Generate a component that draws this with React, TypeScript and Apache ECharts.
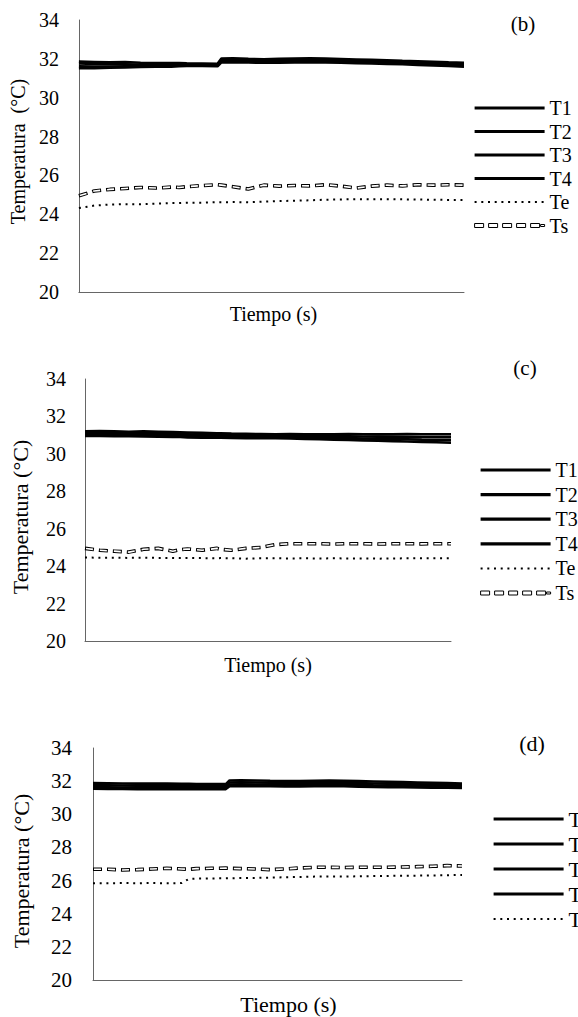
import React, { useEffect, useRef } from "react";
import * as echarts from "echarts";

// Shared time axis (arbitrary units, no labels shown)
const tiempo = [0, 4, 8, 12, 16, 20, 24, 26, 28, 32, 36, 37, 40, 44, 48, 52, 56, 60, 64, 68, 72, 76, 80, 84, 88, 92, 96, 100];
const yTicks = [20, 22, 24, 26, 28, 30, 32, 34];
const seriesNames = ["T1", "T2", "T3", "T4", "Te", "Ts"];

// Panel (b)
const T1b = [31.86, 31.84, 31.82, 31.83, 31.8, 31.79, 31.78, 31.78, 31.77, 31.76, 31.75, 32.02, 32.03, 32.0, 31.98, 32.0, 32.02, 32.03, 32.01, 31.99, 31.97, 31.95, 31.93, 31.9, 31.88, 31.85, 31.82, 31.8];
const T2b = [31.76, 31.74, 31.73, 31.72, 31.7, 31.7, 31.69, 31.7, 31.71, 31.72, 31.72, 31.95, 31.96, 31.94, 31.92, 31.93, 31.95, 31.96, 31.94, 31.92, 31.9, 31.88, 31.86, 31.84, 31.8, 31.78, 31.75, 31.73];
const T3b = [31.62, 31.6, 31.61, 31.62, 31.63, 31.64, 31.65, 31.66, 31.67, 31.67, 31.66, 31.88, 31.88, 31.87, 31.86, 31.86, 31.88, 31.89, 31.88, 31.86, 31.84, 31.82, 31.8, 31.78, 31.75, 31.72, 31.7, 31.67];
const T4b = [31.52, 31.52, 31.54, 31.56, 31.58, 31.59, 31.6, 31.62, 31.63, 31.63, 31.62, 31.82, 31.82, 31.81, 31.8, 31.8, 31.82, 31.83, 31.82, 31.8, 31.78, 31.76, 31.74, 31.72, 31.69, 31.66, 31.63, 31.6];
const Teb = [24.32, 24.45, 24.5, 24.52, 24.52, 24.55, 24.58, 24.58, 24.6, 24.6, 24.62, 24.62, 24.63, 24.62, 24.65, 24.68, 24.7, 24.72, 24.75, 24.76, 24.78, 24.77, 24.78, 24.77, 24.76, 24.75, 24.74, 24.74];
const Tsb = [24.95, 25.2, 25.28, 25.33, 25.38, 25.35, 25.4, 25.38, 25.42, 25.48, 25.52, 25.5, 25.42, 25.3, 25.5, 25.45, 25.48, 25.46, 25.52, 25.45, 25.35, 25.45, 25.5, 25.46, 25.52, 25.5, 25.52, 25.5];

// Panel (c)
const T1c = [31.2, 31.22, 31.2, 31.18, 31.2, 31.18, 31.16, 31.15, 31.14, 31.12, 31.1, 31.1, 31.08, 31.07, 31.06, 31.05, 31.06, 31.05, 31.04, 31.05, 31.06, 31.05, 31.04, 31.05, 31.06, 31.05, 31.05, 31.05];
const T2c = [31.12, 31.12, 31.1, 31.1, 31.08, 31.08, 31.06, 31.05, 31.04, 31.02, 31.0, 31.0, 30.99, 30.98, 30.98, 30.97, 30.97, 30.96, 30.95, 30.95, 30.94, 30.93, 30.92, 30.92, 30.91, 30.9, 30.9, 30.9];
const T3c = [31.05, 31.04, 31.04, 31.02, 31.0, 31.0, 30.98, 30.97, 30.96, 30.95, 30.94, 30.93, 30.92, 30.92, 30.9, 30.9, 30.89, 30.88, 30.86, 30.85, 30.84, 30.82, 30.8, 30.8, 30.78, 30.76, 30.75, 30.75];
const T4c = [30.96, 30.96, 30.95, 30.94, 30.93, 30.92, 30.9, 30.9, 30.88, 30.87, 30.86, 30.86, 30.85, 30.84, 30.84, 30.83, 30.82, 30.8, 30.78, 30.76, 30.74, 30.72, 30.7, 30.68, 30.66, 30.64, 30.62, 30.6];
const Tec = [24.46, 24.45, 24.45, 24.44, 24.45, 24.44, 24.44, 24.43, 24.44, 24.43, 24.42, 24.43, 24.42, 24.4, 24.42, 24.42, 24.41, 24.42, 24.41, 24.42, 24.41, 24.41, 24.4, 24.41, 24.42, 24.42, 24.42, 24.42];
const Tsc = [24.95, 24.85, 24.8, 24.75, 24.9, 24.95, 24.8, 24.88, 24.92, 24.85, 24.95, 24.9, 24.85, 24.95, 25.0, 25.15, 25.2, 25.2, 25.2, 25.18, 25.2, 25.2, 25.18, 25.2, 25.2, 25.19, 25.2, 25.2];

// Panel (d)
const T1d = [31.88, 31.87, 31.86, 31.85, 31.86, 31.85, 31.84, 31.84, 31.83, 31.82, 31.82, 32.04, 32.05, 32.04, 32.02, 32.01, 32.0, 32.02, 32.03, 32.02, 32.0, 31.98, 31.96, 31.94, 31.92, 31.9, 31.88, 31.86];
const T2d = [31.76, 31.75, 31.74, 31.73, 31.74, 31.73, 31.72, 31.72, 31.72, 31.71, 31.7, 31.92, 31.93, 31.92, 31.9, 31.9, 31.89, 31.9, 31.91, 31.9, 31.88, 31.86, 31.85, 31.83, 31.81, 31.79, 31.77, 31.75];
const T3d = [31.64, 31.63, 31.62, 31.62, 31.63, 31.62, 31.61, 31.62, 31.61, 31.6, 31.6, 31.8, 31.81, 31.8, 31.79, 31.78, 31.78, 31.79, 31.8, 31.79, 31.77, 31.75, 31.74, 31.72, 31.7, 31.69, 31.68, 31.67];
const T4d = [31.54, 31.53, 31.53, 31.52, 31.53, 31.52, 31.52, 31.53, 31.52, 31.52, 31.52, 31.7, 31.71, 31.7, 31.69, 31.68, 31.68, 31.69, 31.7, 31.69, 31.67, 31.65, 31.64, 31.63, 31.62, 31.61, 31.6, 31.59];
const Ted = [25.84, 25.84, 25.85, 25.84, 25.85, 25.84, 25.85, 26.1, 26.12, 26.13, 26.14, 26.14, 26.15, 26.16, 26.18, 26.2, 26.22, 26.24, 26.25, 26.24, 26.26, 26.27, 26.28, 26.29, 26.3, 26.31, 26.32, 26.34];
const Tsd = [26.68, 26.68, 26.64, 26.66, 26.7, 26.74, 26.7, 26.68, 26.72, 26.74, 26.75, 26.74, 26.72, 26.7, 26.66, 26.7, 26.76, 26.8, 26.8, 26.79, 26.8, 26.8, 26.8, 26.82, 26.84, 26.86, 26.9, 26.88];

const FONT = "'Liberation Serif', 'Times New Roman', Times, serif";

// hollow-dash icon for the Ts legend entry
const TS_ICON = "path://M0 0h9v4h-9zM14 0h9v4h-9zM28 0h9v4h-9zM42 0h9v4h-9zM56 0h9v4h-9zM66 1h4v2h-4z";

type Panel = {
  tag: string;
  data: number[][];
  grid: { left: number; top: number; width: number; height: number };
  tickFont: number;
  tickMargin: number;
  yName: string;
  yNameFont: number;
  yNameGap: number;
  yNamePad: number[];
  xNameFont: number;
  xNameGap: number;
  xNamePadLeft: number;
  legendNames: string[];
  legend: { left: number; top: number; font: number; lineHeight: number; gap: number };
  tagPos: { x: number; y: number; font: number };
};

const panels: Panel[] = [
  {
    tag: "(b)",
    data: [T1b, T2b, T3b, T4b, Teb, Tsb],
    grid: { left: 77, top: 20, width: 387, height: 272 },
    tickFont: 20,
    tickMargin: 20,
    yName: "Temperatura  (°C)",
    yNameFont: 20,
    yNameGap: 49,
    yNamePad: [0, 0, 0, 9],
    xNameFont: 20,
    xNameGap: 12,
    xNamePadLeft: 4,
    legendNames: ["T1", "T2", "T3", "T4", "Te", "Ts"],
    legend: { left: 473, top: 98, font: 20, lineHeight: 20, gap: 3.5 },
    tagPos: { x: 523, y: 24, font: 21 },
  },
  {
    tag: "(c)",
    data: [T1c, T2c, T3c, T4c, Tec, Tsc],
    grid: { left: 85, top: 379, width: 366, height: 262 },
    tickFont: 20,
    tickMargin: 19,
    yName: "Temperatura (°C)",
    yNameFont: 22,
    yNameGap: 54,
    yNamePad: [0, 14, 0, 0],
    xNameFont: 20,
    xNameGap: 14,
    xNamePadLeft: 0,
    legendNames: ["T1", "T2", "T3", "T4", "Te", "Ts"],
    legend: { left: 479, top: 460, font: 20, lineHeight: 20, gap: 4.6 },
    tagPos: { x: 525, y: 368, font: 21 },
  },
  {
    tag: "(d)",
    data: [T1d, T2d, T3d, T4d, Ted, Tsd],
    grid: { left: 93, top: 748, width: 369, height: 232 },
    tickFont: 21,
    tickMargin: 21,
    yName: "Temperatura (°C)",
    yNameFont: 22,
    yNameGap: 61,
    yNamePad: [0, 14, 0, 0],
    xNameFont: 22,
    xNameGap: 13,
    xNamePadLeft: 22,
    legendNames: ["T1", "T2", "T3", "T4", "Te"],
    legend: { left: 492, top: 808, font: 22, lineHeight: 22, gap: 3 },
    tagPos: { x: 532, y: 743, font: 22 },
  },
];

const AXIS_COLOR = "#666666";

function buildOption() {
  const grid: any[] = [];
  const xAxis: any[] = [];
  const yAxis: any[] = [];
  const series: any[] = [];
  const legend: any[] = [];
  const graphic: any[] = [];

  panels.forEach((p, i) => {
    grid.push({ ...p.grid, containLabel: false });
    xAxis.push({
      gridIndex: i,
      type: "value",
      min: tiempo[0],
      max: tiempo[tiempo.length - 1],
      axisLine: { show: true, lineStyle: { color: AXIS_COLOR, width: 1 } },
      axisTick: { show: false },
      axisLabel: { show: false },
      splitLine: { show: false },
      name: "Tiempo (s)",
      nameLocation: "middle",
      nameGap: p.xNameGap,
      nameTextStyle: {
        fontFamily: FONT,
        fontSize: p.xNameFont,
        color: "#000",
        padding: [0, 0, 0, p.xNamePadLeft],
      },
    });
    yAxis.push({
      gridIndex: i,
      type: "value",
      min: yTicks[0],
      max: yTicks[yTicks.length - 1],
      interval: yTicks[1] - yTicks[0],
      axisLine: { show: true, lineStyle: { color: AXIS_COLOR, width: 1 } },
      axisTick: { show: false },
      splitLine: { show: false },
      axisLabel: {
        fontFamily: FONT,
        fontSize: p.tickFont,
        color: "#000",
        margin: p.tickMargin,
      },
      name: p.yName,
      nameLocation: "middle",
      nameRotate: 90,
      nameGap: p.yNameGap,
      nameTextStyle: { fontFamily: FONT, fontSize: p.yNameFont, color: "#000", padding: p.yNamePad },
    });

    const toPts = (arr: number[]) => tiempo.map((t, k) => [t, arr[k]]);
    const base = {
      type: "line",
      xAxisIndex: i,
      yAxisIndex: i,
      symbol: "none",
      showSymbol: false,
      silent: true,
      itemStyle: { color: "#000" },
    };

    for (let s = 0; s < 4; s++) {
      series.push({ ...base, name: seriesNames[s], data: toPts(p.data[s]), z: 5, lineStyle: { color: "#000", width: 2.6 } });
    }
    series.push({ ...base, name: "Te", data: toPts(p.data[4]), lineStyle: { color: "#000", width: 2, type: [2, 4.7], cap: "butt" } });
    series.push({ ...base, name: "Ts", data: toPts(p.data[5]), lineStyle: { color: "#000", width: 3.6, type: [9, 5], cap: "butt" } });
    // white core of the hollow dashes
    series.push({ ...base, name: "Ts-hueco", itemStyle: { color: "#fff" }, data: toPts(p.data[5]), lineStyle: { color: "#fff", width: 1.6, type: [7, 7], dashOffset: -1, cap: "butt" } });

    const lg = p.legend;
    legend.push({
      orient: "vertical",
      left: lg.left,
      top: lg.top,
      padding: 0,
      itemWidth: 70,
      itemHeight: 4,
      itemGap: lg.gap,
      selectedMode: false,
      itemStyle: { opacity: 0 },
      textStyle: { fontFamily: FONT, fontSize: lg.font, lineHeight: lg.lineHeight, color: "#000" },
      data: p.legendNames.map((n) => {
        if (n === "Ts") {
          return { name: n, icon: TS_ICON, itemStyle: { opacity: 1, color: "#fff", borderColor: "#000", borderWidth: 1 } };
        }
        if (n === "Te") {
          return { name: n };
        }
        return { name: n, lineStyle: { width: 3.2 } };
      }),
    });

    graphic.push({
      type: "text",
      x: p.tagPos.x,
      y: p.tagPos.y,
      style: {
        text: p.tag,
        fontFamily: FONT,
        fontSize: p.tagPos.font,
        fill: "#000",
        align: "center",
        verticalAlign: "middle",
      },
    });
  });

  return {
    animation: false,
    backgroundColor: "#fff",
    grid,
    xAxis,
    yAxis,
    series,
    legend,
    graphic,
  };
}

export default function App() {
  const ref = useRef<HTMLDivElement>(null);
  useEffect(() => {
    if (!ref.current) return;
    const chart = echarts.init(ref.current, undefined, { renderer: "svg" });
    chart.setOption(buildOption() as any);
    return () => chart.dispose();
  }, []);
  return (
    <div
      ref={ref}
      style={{ position: "absolute", left: 0, top: 0, width: 578, height: 1017, background: "#fff" }}
    />
  );
}
